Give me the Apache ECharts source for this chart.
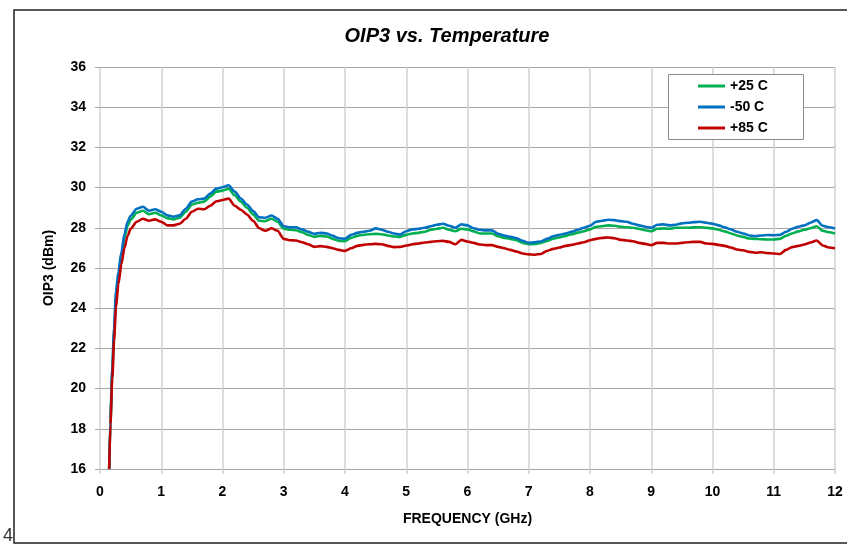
<!DOCTYPE html>
<html>
<head>
<meta charset="utf-8">
<script src="https://cdn.jsdelivr.net/npm/echarts@6/dist/echarts.min.js"></script>
<style>
html,body{margin:0;padding:0;background:#fff;}
#chart{width:847px;height:545px;}
</style>
</head>
<body>
<div id="chart"></div>
<script>
var titleText = 'OIP3 vs. Temperature';
var xAxisName = 'FREQUENCY (GHz)';
var yAxisName = 'OIP3 (dBm)';
var seriesNames = ['+25 C', '-50 C', '+85 C'];

var freq = [0.15,0.17,0.2,0.23,0.26,0.3,0.35,0.4,0.45,0.5,
  0.6,0.7,0.8,0.9,1.0,
  1.1,1.2,1.3,1.4,1.5,1.6,1.7,1.8,1.9,2.0,
  2.1,2.2,2.3,2.4,2.5,2.6,2.7,2.8,2.9,3.0,
  3.1,3.2,3.3,3.4,3.5,3.6,3.7,3.8,3.9,4.0,
  4.1,4.2,4.3,4.4,4.5,4.6,4.7,4.8,4.9,5.0,
  5.1,5.2,5.3,5.4,5.5,5.6,5.7,5.8,5.9,6.0,
  6.1,6.2,6.3,6.4,6.5,6.6,6.7,6.8,6.9,7.0,
  7.1,7.2,7.3,7.4,7.5,7.6,7.7,7.8,7.9,8.0,
  8.1,8.2,8.3,8.4,8.5,8.6,8.7,8.8,8.9,9.0,
  9.1,9.2,9.3,9.4,9.5,9.6,9.7,9.8,9.9,10.0,
  10.1,10.2,10.3,10.4,10.5,10.6,10.7,10.8,10.9,11.0,
  11.1,11.2,11.3,11.4,11.5,11.6,11.7,11.8,11.9,12.0];

var oip3_p25 = [16,18.3,20.8,22.8,24.5,25.6,26.6,27.5,28.1,28.4,
  28.75,28.85,28.68,28.75,28.62,
  28.48,28.42,28.5,28.8,29.15,29.25,29.3,29.55,29.8,29.85,
  29.95,29.62,29.3,29.0,28.66,28.35,28.33,28.45,28.3,27.95,
  27.9,27.88,27.78,27.65,27.55,27.6,27.57,27.45,27.35,27.33,
  27.5,27.6,27.65,27.68,27.7,27.68,27.62,27.57,27.55,27.65,
  27.72,27.75,27.8,27.9,27.95,28.0,27.9,27.83,27.95,27.92,
  27.82,27.72,27.72,27.72,27.58,27.5,27.45,27.38,27.25,27.18,
  27.2,27.25,27.35,27.46,27.52,27.6,27.68,27.76,27.83,27.92,
  28.05,28.08,28.12,28.1,28.05,28.03,28.0,27.95,27.88,27.83,
  27.95,27.97,27.95,28.0,28.0,28.0,28.02,28.03,28.0,27.97,
  27.9,27.82,27.72,27.62,27.55,27.47,27.45,27.43,27.42,27.42,
  27.45,27.6,27.72,27.82,27.9,27.98,28.08,27.85,27.78,27.72];

var oip3_m50 = [16,18.5,21,23,24.8,25.8,26.8,27.7,28.3,28.6,
  28.95,29.05,28.85,28.92,28.8,
  28.62,28.55,28.62,28.95,29.3,29.42,29.45,29.7,29.95,30.02,
  30.12,29.8,29.46,29.16,28.83,28.52,28.5,28.61,28.45,28.08,
  28.02,28.03,27.92,27.8,27.7,27.75,27.72,27.6,27.48,27.45,
  27.65,27.75,27.8,27.85,27.97,27.9,27.8,27.72,27.67,27.83,
  27.92,27.95,28.0,28.08,28.15,28.2,28.1,28.0,28.17,28.12,
  27.98,27.9,27.87,27.87,27.7,27.62,27.55,27.48,27.35,27.25,
  27.28,27.32,27.45,27.58,27.65,27.72,27.8,27.9,28.0,28.1,
  28.3,28.35,28.4,28.38,28.33,28.3,28.2,28.12,28.05,28.0,
  28.15,28.17,28.12,28.15,28.22,28.25,28.28,28.3,28.25,28.2,
  28.12,28.02,27.92,27.8,27.72,27.62,27.58,27.62,27.64,27.63,
  27.65,27.8,27.95,28.05,28.12,28.25,28.38,28.1,28.03,27.97];

var oip3_p85 = [16,18.2,20.5,22.4,24.0,25.2,26.2,27.0,27.6,27.95,
  28.3,28.45,28.35,28.42,28.3,
  28.12,28.12,28.2,28.45,28.8,28.95,28.92,29.1,29.32,29.38,
  29.45,29.1,28.9,28.66,28.35,27.98,27.85,27.98,27.85,27.45,
  27.38,27.37,27.28,27.18,27.05,27.09,27.05,26.98,26.9,26.85,
  26.98,27.1,27.15,27.18,27.2,27.18,27.1,27.04,27.05,27.12,
  27.18,27.22,27.27,27.3,27.33,27.35,27.3,27.18,27.4,27.32,
  27.25,27.17,27.14,27.14,27.05,26.98,26.9,26.82,26.72,26.68,
  26.66,26.7,26.85,26.95,27.02,27.1,27.15,27.22,27.28,27.38,
  27.45,27.5,27.52,27.48,27.4,27.37,27.33,27.25,27.2,27.14,
  27.25,27.25,27.22,27.22,27.25,27.28,27.3,27.3,27.22,27.2,
  27.15,27.1,27.02,26.92,26.88,26.8,26.76,26.78,26.74,26.72,
  26.7,26.9,27.04,27.1,27.17,27.27,27.37,27.12,27.02,26.98];

function pairs(ys){ return freq.map(function(f,i){ return [f, ys[i]]; }); }

var FONT = '"Liberation Sans", Arial, sans-serif';
var chart = echarts.init(document.getElementById('chart'), null, {renderer:'canvas'});
var colors = ['#00B050', '#0070C0', '#C00000'];
var values = [oip3_p25, oip3_m50, oip3_p85];

chart.setOption({
  animation: false,
  backgroundColor: '#ffffff',
  title: {
    text: titleText, left: 442, top: 21, textAlign: 'center',
    textStyle: {fontFamily: FONT, fontSize: 20, fontWeight: 'bold', fontStyle: 'italic', color: '#000'}
  },
  graphic: [
    {type:'rect', z:0, shape:{x:14, y:10, width:900, height:533}, style:{fill:'none', stroke:'#222', lineWidth:1.5}},
    {type:'rect', z:5, shape:{x:668.5, y:74.5, width:135, height:65}, style:{fill:'#fff', stroke:'#8c8c8c', lineWidth:1}},
    {type:'text', z:5, left:3, top:527, style:{text:'4', font:'18px "Liberation Sans", Arial, sans-serif', fill:'#333'}}
  ],
  legend: {
    z: 10,
    orient: 'vertical', left: 698, top: 79, padding: 0, itemGap: 7,
    itemWidth: 27, itemHeight: 3, icon: 'rect',
    textStyle: {fontFamily: FONT, fontSize: 14, fontWeight: 'bold', color: '#000', lineHeight: 14},
    data: seriesNames
  },
  grid: {left: 100, right: 12, top: 67, bottom: 76, containLabel: false},
  xAxis: {
    type: 'value', min: 0, max: 12, interval: 1,
    name: xAxisName, nameLocation: 'middle', nameGap: 43,
    nameTextStyle: {fontFamily: FONT, fontSize: 14, fontWeight: 'bold', color: '#000'},
    axisLine: {show: false},
    axisTick: {show: true, length: 5, lineStyle: {color: '#d0d0d0', width: 1.5}},
    axisLabel: {margin: 16, fontFamily: FONT, fontSize: 14, fontWeight: 'bold', color: '#000'},
    splitLine: {show: true, lineStyle: {color: '#d0d0d0', width: 1.5}}
  },
  yAxis: {
    type: 'value', min: 16, max: 36, interval: 2,
    name: yAxisName, nameLocation: 'middle', nameGap: 44, nameRotate: 90,
    nameTextStyle: {fontFamily: FONT, fontSize: 14, fontWeight: 'bold', color: '#000'},
    axisLine: {show: false},
    axisTick: {show: true, length: 5, lineStyle: {color: '#a6a6a6', width: 1}},
    axisLabel: {margin: 14, fontFamily: FONT, fontSize: 14, fontWeight: 'bold', color: '#000'},
    splitLine: {show: true, lineStyle: {color: '#a6a6a6', width: 1}}
  },
  series: seriesNames.map(function(n, i){
    return {
      name: n, type: 'line', data: pairs(values[i]),
      showSymbol: false, symbol: 'none', smooth: 0.25, smoothMonotone: 'x',
      lineStyle: {color: colors[i], width: 2.6},
      itemStyle: {color: colors[i]}
    };
  })
});
</script>
</body>
</html>
